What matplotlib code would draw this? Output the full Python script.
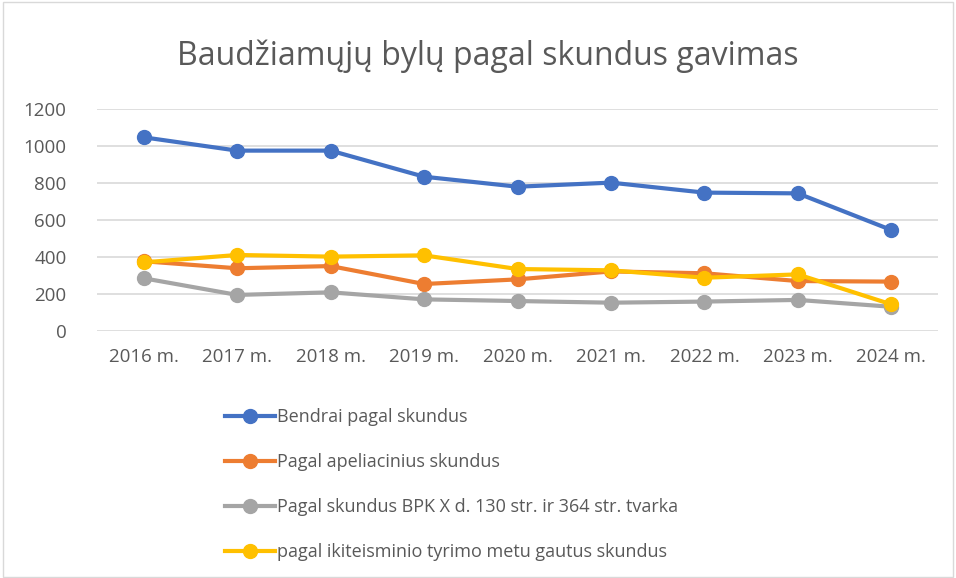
import matplotlib.pyplot as plt
from matplotlib.patches import Rectangle

plt.rcParams['font.family'] = ['Open Sans', 'DejaVu Sans']

# Data
years = ['2016 m.', '2017 m.', '2018 m.', '2019 m.', '2020 m.', '2021 m.', '2022 m.', '2023 m.', '2024 m.']
bendrai = [1047, 975, 975, 834, 780, 802, 748, 744, 546]
apeliaciniai = [377, 339, 351, 254, 279, 322, 312, 270, 267]
bpk = [285, 195, 209, 171, 162, 153, 159, 168, 131]
ikiteisminis = [371, 411, 402, 409, 335, 328, 288, 306, 144]
labels = ['Bendrai pagal skundus',
          'Pagal apeliacinius skundus',
          'Pagal skundus BPK X d. 130 str. ir 364 str. tvarka',
          'pagal ikiteisminio tyrimo metu gautus skundus']
colors = ['#4472C4', '#ED7D31', '#A5A5A5', '#FFC000']

text_color = '#595959'

fig = plt.figure(figsize=(9.56, 5.78), dpi=100)
ax = fig.add_axes([97 / 956, 1 - 331 / 578, 841 / 956, 222 / 578])

x = range(len(years))
series = [bendrai, apeliaciniai, bpk, ikiteisminis]
for vals, lab, col in zip(series, labels, colors):
    ax.plot(x, vals, color=col, linewidth=3, marker='o', markersize=10, label=lab)

ax.set_xlim(-0.5, len(years) - 0.5)
ax.set_ylim(0, 1200)
ax.set_yticks(range(0, 1201, 200))
ax.set_xticks(list(x))
ax.set_xticklabels(years)
ax.tick_params(axis='both', length=0, labelsize=13.5, colors=text_color)
ax.tick_params(axis='x', pad=12)
ax.tick_params(axis='y', pad=22)
ax.grid(axis='y', color='#D9D9D9', linewidth=1.2)
ax.set_axisbelow(True)
for s in ax.spines.values():
    s.set_visible(False)

fig.text(488 / 956, 1 - 56 / 578, 'Baudžiamųjų bylų pagal skundus gavimas',
         ha='center', va='center', fontsize=23, color=text_color)

handles, labs = ax.get_legend_handles_labels()
leg = fig.legend(handles, labs, loc='upper left', bbox_to_anchor=(218 / 956, 1 - 401 / 578),
                 frameon=False, fontsize=13, handlelength=2.75, handletextpad=0.1,
                 labelspacing=1.5, borderaxespad=0)
for t in leg.get_texts():
    t.set_color(text_color)

fig.patches.append(Rectangle((0.003, 0.002), 0.994, 0.995, transform=fig.transFigure,
                             fill=False, edgecolor='#D9D9D9', linewidth=1))

fig.savefig('out.png', dpi=100)
